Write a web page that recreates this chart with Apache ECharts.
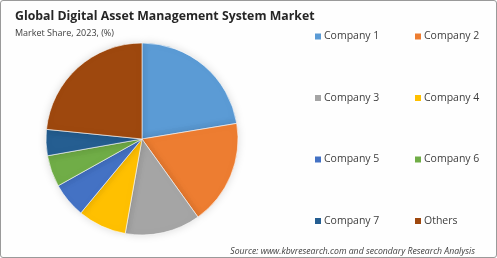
<!DOCTYPE html>
<html>
<head>
<meta charset="utf-8">
<script src="https://cdn.jsdelivr.net/npm/echarts@6/dist/echarts.min.js"></script>
<style>
html,body{margin:0;padding:0;background:#fff;}
#wrap{position:absolute;left:0;top:0;width:495px;height:256px;border:1px solid #9a9a9a;border-radius:3px;background:#fefefe;}
#chart{width:495px;height:256px;}
</style>
</head>
<body>
<div id="wrap"><div id="chart"></div></div>
<script>
const categories = ["Company 1","Company 2","Company 3","Company 4","Company 5","Company 6","Company 7","Others"];
const shares = [22.4, 17.7, 12.7, 8.2, 5.9, 5.3, 4.4, 23.4];
const colors = ["#5B9BD5","#ED7D31","#A5A5A5","#FFC000","#4472C4","#70AD47","#255E91","#9E480E"];
const titleText = "Global Digital Asset Management System Market";
const subtitleText = "Market Share, 2023, (%)";
const sourceText = "Source: www.kbvresearch.com and secondary Research Analysis";

const chart = echarts.init(document.getElementById('chart'));
const legendStyle = {fontFamily:'"Open Sans", sans-serif', fontSize:10.5, color:'#404040', padding:[0,0,0,-3]};
chart.setOption({
  animation:false,
  color: colors,
  title:[
    {text:titleText, left:9, top:4, textStyle:{fontFamily:'"Open Sans", sans-serif', fontWeight:'bold', fontSize:12.3, color:'#262626'}},
    {text:subtitleText, left:9, top:23, textStyle:{fontFamily:'"Open Sans", sans-serif', fontWeight:'normal', fontSize:9, color:'#404040'}},
    {text:sourceText, right:16, top:241, textStyle:{fontFamily:'"Open Sans", sans-serif', fontStyle:'italic', fontWeight:'normal', fontSize:8.7, color:'#404040'}}
  ],
  legend:[
    {data:[categories[0],categories[2],categories[4],categories[6]], orient:'vertical', left:307, top:25, itemWidth:8, itemHeight:8, itemGap:50.5, icon:'rect', textStyle:legendStyle},
    {data:[categories[1],categories[3],categories[5],categories[7]], orient:'vertical', left:407, top:25, itemWidth:8, itemHeight:8, itemGap:50.5, icon:'rect', textStyle:legendStyle}
  ],
  series:[{
    type:'pie',
    center:[141,138],
    radius:[0,96],
    startAngle:90,
    clockwise:true,
    label:{show:false},
    labelLine:{show:false},
    itemStyle:{borderColor:'#ffffff', borderWidth:0.6, shadowBlur:8, shadowColor:'rgba(0,0,0,0.15)'},
    data: categories.map((c,i)=>({name:c, value:shares[i]}))
  }]
});
</script>
</body>
</html>
